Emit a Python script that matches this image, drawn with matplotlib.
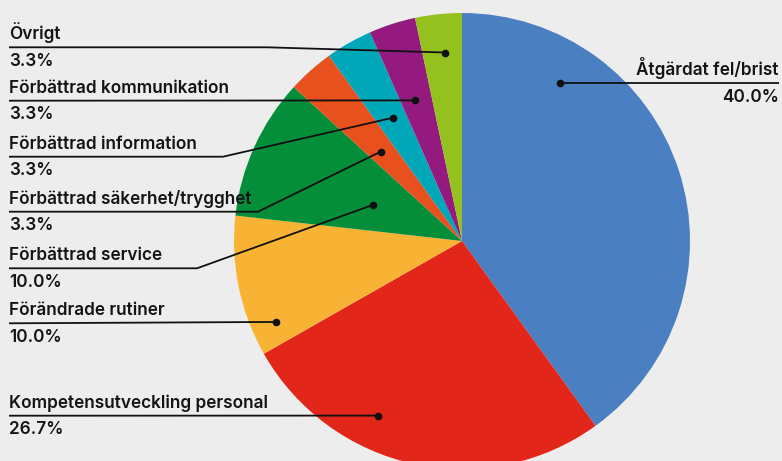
import matplotlib.pyplot as plt
import numpy as np

# ---- data ----
categories = [
    "Åtgärdat fel/brist",
    "Kompetensutveckling personal",
    "Förändrade rutiner",
    "Förbättrad service",
    "Förbättrad säkerhet/trygghet",
    "Förbättrad information",
    "Förbättrad kommunikation",
    "Övrigt",
]
shares = [40.0, 26.7, 10.0, 10.0, 3.3, 3.3, 3.3, 3.3]
colors = ["#4A7FC1", "#E3261A", "#F8B334", "#058E39",
          "#E8501E", "#00A7B9", "#941A80", "#95C11F"]

# ---- layout (pixel space, y measured from the top) ----
W, H = 782, 461
CENTER = (462, 241)
RADIUS = 228
BG = "#EDEDED"

# where the dot sits inside each wedge: fraction along the arc, fraction of radius
dot_place = [(0.78, 0.815), (0.36, 0.85), (0.83, 0.89), (0.56, 0.42),
             (0.56, 0.53), (0.47, 0.62), (0.55, 0.65), (0.43, 0.83)]
# label rows: y of the leader line, x where it leaves the horizontal (None = straight)
line_y = [83.3, 415.7, 323.3, 268.3, 211.7, 156.7, 100.7, 47.3]
elbow_x = [None, None, None, 197, 258, 223, None, 267]
LEFT_X = 9
RIGHT_X = 779

plt.rcParams["font.family"] = ["Inter", "DejaVu Sans"]

fig = plt.figure(figsize=(W / 100, H / 100), dpi=100, facecolor=BG)
ax = fig.add_axes([0, 0, 1, 1])
ax.set_facecolor(BG)


def fy(y):
    # flip a top-down pixel y into axes data space
    return H - y


wedges, _ = ax.pie(shares, colors=colors, startangle=90, counterclock=False,
                   center=(CENTER[0], fy(CENTER[1])), radius=RADIUS,
                   wedgeprops=dict(linewidth=0), frame=True)
ax.set_xlim(0, W)
ax.set_ylim(0, H)
ax.set_aspect("equal")
ax.axis("off")

txt_kw = dict(fontsize=12.4, fontweight="semibold", color="#141414")

for i, (w, label, val) in enumerate(zip(wedges, categories, shares)):
    f, rf = dot_place[i]
    ang = np.deg2rad(w.theta1 + f * (w.theta2 - w.theta1))
    dx = w.center[0] + rf * w.r * np.cos(ang)
    dy = w.center[1] + rf * w.r * np.sin(ang)
    ly = fy(line_y[i])
    pct = f"{val:.1f}%"

    if i == 0:
        # right-hand label
        ax.plot([dx, RIGHT_X], [dy, dy], color="#111111", lw=1.3, solid_capstyle="butt")
        ax.text(RIGHT_X, ly + 8, label, ha="right", va="baseline", **txt_kw)
        ax.text(RIGHT_X, ly - 18.5, pct, ha="right", va="baseline", **txt_kw)
    else:
        if elbow_x[i] is None:
            xs, ys = [LEFT_X, dx], [ly, dy]
        else:
            xs, ys = [LEFT_X, elbow_x[i], dx], [ly, ly, dy]
        ax.plot(xs, ys, color="#111111", lw=1.3, solid_capstyle="butt")
        ax.text(LEFT_X, ly + 8, label, ha="left", va="baseline", **txt_kw)
        ax.text(LEFT_X, ly - 18.5, pct, ha="left", va="baseline", **txt_kw)

    ax.plot(dx, dy, "o", color="#111111", markersize=4.5, zorder=5)

fig.savefig("out.png", dpi=100, facecolor=BG)
